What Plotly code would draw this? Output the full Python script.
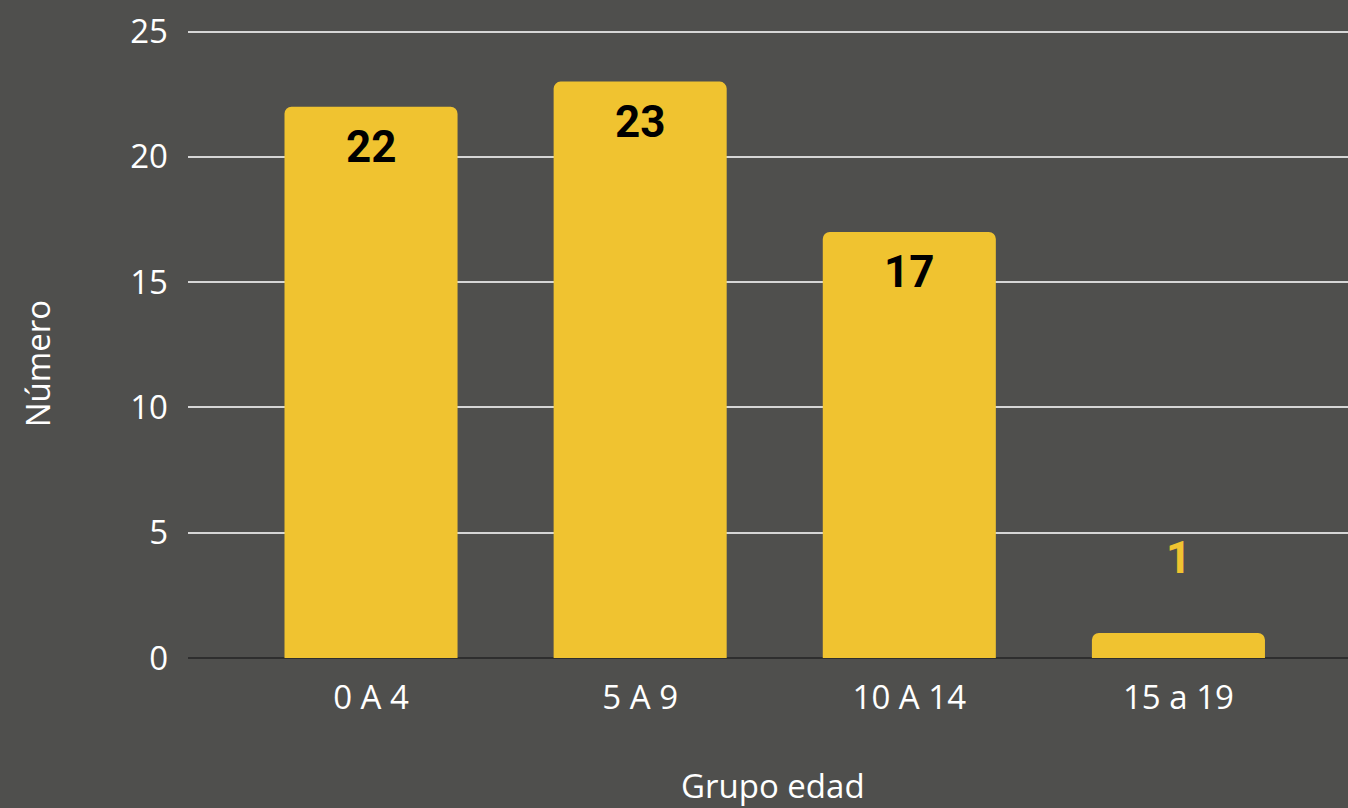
import plotly.graph_objects as go

categories = ["0 A 4", "5 A 9", "10 A 14", "15 a 19"]
values = [22, 23, 17, 1]
y_ticks = [0, 5, 10, 15, 20, 25]
x_title = "Grupo edad"
y_title = "Número"

BG = "#4f4f4d"
BAR = "#f0c330"

fig = go.Figure()
fig.add_trace(go.Bar(
    x=list(range(len(categories))),
    y=values,
    marker=dict(color=BAR, line=dict(width=0)),
    width=0.643,
    hoverinfo="skip",
))

for i, v in enumerate(values):
    inside = v >= 5
    fig.add_annotation(
        x=i, y=v, xref="x", yref="y",
        text=str(v), showarrow=False,
        yshift=-40 if inside else 75,
        font=dict(family="Roboto", size=44, weight="bold",
                  color="#000000" if inside else BAR),
        xanchor="center", yanchor="middle",
    )

# axis titles (placed as annotations for exact positioning)
fig.add_annotation(
    x=0.5043, y=-0.2035, xref="paper", yref="paper",
    text=x_title, showarrow=False, xanchor="center", yanchor="middle",
    font=dict(family="Open Sans", size=33, color="#ffffff"),
)
fig.add_annotation(
    x=-0.130, y=0.4696, xref="paper", yref="paper",
    text=y_title, showarrow=False, textangle=-90,
    xanchor="center", yanchor="middle",
    font=dict(family="Open Sans", size=33, color="#ffffff"),
)

fig.update_layout(
    width=1348, height=808,
    paper_bgcolor=BG, plot_bgcolor=BG,
    margin=dict(l=188, r=0, t=30, b=150),
    barcornerradius=7,
    showlegend=False,
    font=dict(family="Open Sans", color="#ffffff", size=33),
)
fig.update_xaxes(
    tickmode="array",
    tickvals=list(range(len(categories))),
    ticktext=categories,
    range=[-0.68, 3.63],
    showgrid=False,
    showline=False,
    zeroline=False,
    ticks="",
    ticklabelstandoff=17,
    tickfont=dict(family="Open Sans", size=33, color="#ffffff"),
)
fig.update_yaxes(
    range=[0, 25.06],
    tickmode="array",
    tickvals=y_ticks,
    showgrid=True,
    gridcolor="#d6d6d6",
    gridwidth=2,
    zeroline=True,
    zerolinecolor="#2e2e2e",
    zerolinewidth=2,
    showline=False,
    ticks="",
    ticklabelstandoff=19,
    tickfont=dict(family="Open Sans", size=33, color="#ffffff"),
)

fig.write_html(
    "out.html",
    config={"displayModeBar": False},
    post_script="document.body.style.margin='0';document.body.style.overflow='hidden';",
)
